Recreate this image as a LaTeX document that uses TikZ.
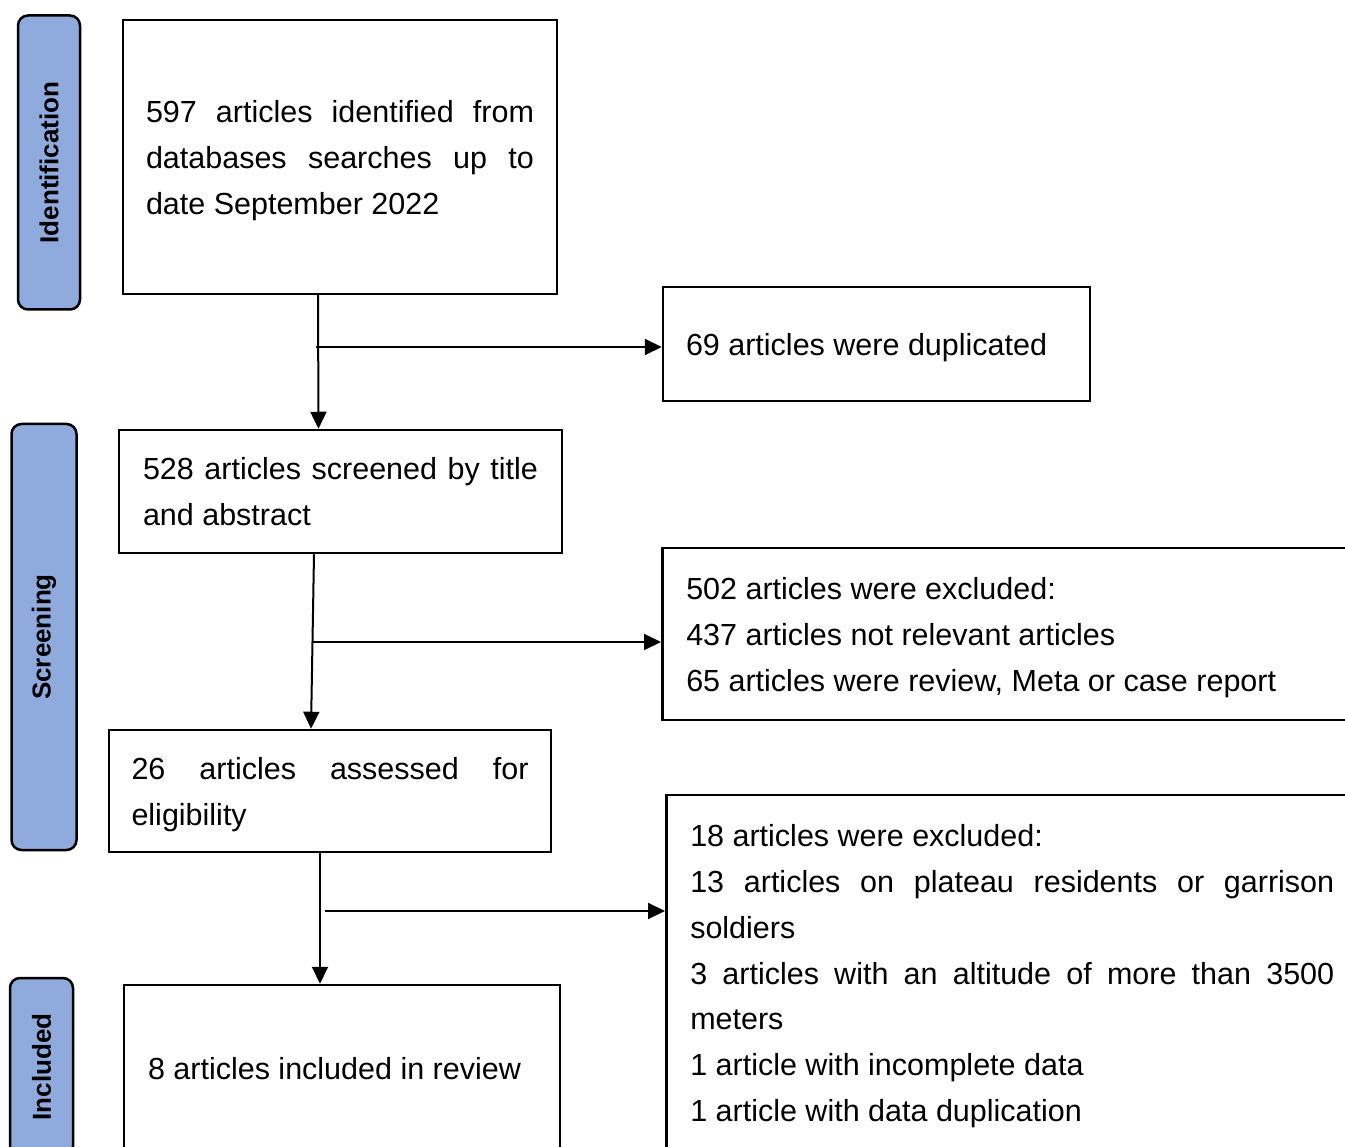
\documentclass[tikz,border=0pt]{standalone}
\usepackage{fontspec}
\setmainfont{Liberation Sans}
\usetikzlibrary{arrows.meta}
\definecolor{phaseblue}{RGB}{143,170,220}

\begin{document}
\begin{tikzpicture}[ x=1pt , y=-1pt , >={Triangle[length=17pt,width=16pt]} ,
  box/.style={ draw , line width=2.5pt , inner xsep=23pt , inner ysep=0pt , align=justify , font=\fontsize{30.5}{46}\selectfont },
  phase/.style={ draw , line width=2.5pt , fill=phaseblue , rounded corners=10pt , rotate=90 , inner sep=0pt , font=\fontsize{26}{30}\selectfont\bfseries },
  link/.style={ line width=2pt } ]
\useasboundingbox (0,0) rectangle (1345,1147);
\clip (0,0) rectangle (1345,1147);

% phases on the left
\node [ phase , minimum width=294pt , minimum height=62pt ] (p_0) at (49,162.5) {Identification};
\node [ phase , minimum width=426pt , minimum height=65pt ] (p_1) at (44,637) {Screening};
\node [ phase , minimum width=178pt , minimum height=63pt ] (p_2) at (41.5,1067) {Included};

% main column
\node [ box , text width=388pt , text depth=92pt , minimum height=274pt ] (n_0) at (340,157) {597 articles identified from\linebreak databases searches up to\linebreak date September 2022};
\node [ box , text width=395pt , text depth=46pt , inner xsep=24pt , minimum height=123pt ] (n_1) at (340.5,491.5) {528 articles screened by title\linebreak and abstract};
\node [ box , text width=397pt , text depth=46pt , inner xsep=22.5pt , minimum height=122pt ] (n_2) at (330,791) {26 articles assessed for\linebreak eligibility};
\node [ box , text width=388pt , text depth=0pt , inner xsep=24pt , minimum height=166pt ] (n_3) at (342,1068) {8 articles included in review};

% excluded records
\node [ box , text width=381pt , text depth=0pt , minimum height=114pt ] (x_0) at (876.5,344) {69 articles were duplicated};
\node [ box , text width=700pt , text depth=92pt , inner xsep=24pt , minimum height=172pt , anchor=west ] (x_1) at (661,634) {502 articles were excluded:\\ 437 articles not relevant articles\\ 65 articles were review, Meta or case report};
\node [ box , text width=644pt , text depth=274.2pt , inner xsep=24pt , minimum height=356pt , anchor=west , font=\fontsize{30.5}{45.7}\selectfont ] (x_2) at (665,973) {18 articles were excluded:\\ 13 articles on plateau residents or garrison\linebreak soldiers\\ 3 articles with an altitude of more than 3500\linebreak meters\\ 1 article with incomplete data\\ 1 article with data duplication};

% branch points
\coordinate (j_0) at (316,347);
\coordinate (j_1) at (312,642);
\coordinate (j_2) at (325,911);

\path [ ->, link ]
([xshift=-22pt]n_0.south) edge ([xshift=-22pt]n_1.north)
([xshift=-26.5pt]n_1.south) edge ([xshift=-19pt]n_2.north)
([xshift=-10pt]n_2.south) edge ([xshift=-22pt]n_3.north)
(j_0) edge (j_0 -| x_0.west)
(j_1) edge (j_1 -| x_1.west)
(j_2) edge (j_2 -| x_2.west);
\end{tikzpicture}
\end{document}
